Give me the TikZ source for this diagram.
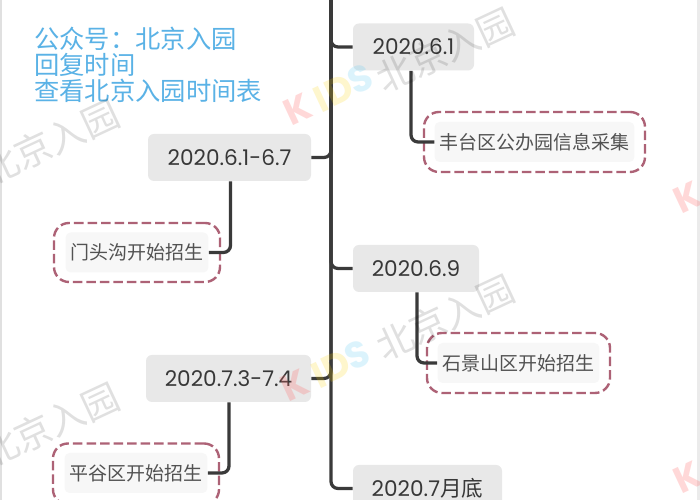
\documentclass[tikz,border=0pt]{standalone}
\usepackage{xcolor}
\usepackage{fontspec}
\setmainfont{Poppins}
\newfontfamily\cjk{Noto Sans CJK SC}
\usetikzlibrary{positioning,calc}
\definecolor{trunkcol}{HTML}{3A3A3A}
\definecolor{dashcol}{HTML}{AD6276}
\definecolor{boxcol}{HTML}{E8E8E8}
\definecolor{notecol}{HTML}{5AB2E6}
\tikzset{
  datebox/.style={fill=boxcol, rounded corners=0.12cm, text=black!78, font=\fontsize{12.3}{14}\selectfont, minimum height=0.94cm},
  dashbox/.style={draw=dashcol, line width=0.048cm, dash pattern=on 0.19cm off 0.08cm, rounded corners=0.3cm},
  childtext/.style={fill=black!3, rounded corners=0.1cm, text=black!68, font=\cjk\fontsize{10.8}{13}\selectfont, inner xsep=0.1cm, minimum height=0.8cm},
  link/.style={draw=trunkcol, line width=0.065cm, rounded corners=0.14cm},
  wmark/.style={text=black, opacity=.12, font=\cjk\fontsize{21}{24}\selectfont, rotate=25},
  kids/.style={font=\fontsize{21}{24}\selectfont\bfseries, rotate=25}
}
\begin{document}
\begin{tikzpicture}
    \useasboundingbox (0,0) rectangle (14,10);
    \clip (0,0) rectangle (14,10);
    \fill[white] (0,0) rectangle (14,10);
    \draw[black!12, line width=0.05cm] (0.01,0) -- (0.01,10);
    \draw[black!8, line width=0.06cm] (13.96,0) -- (13.96,10);

    % note
    \node[align=left, anchor=north west, text=notecol, inner sep=0pt, font=\cjk\fontsize{14.4}{14.9}\selectfont] (note) at (0.68,9.47) {公众号：北京入园\\回复时间\\查看北京入园时间表};

    % dates
    \coordinate (top) at (6.62,10);
    \node[datebox, minimum width=2.42cm] (d61) at (8.27,9.06) {2020.6.1};
    \node[datebox, minimum width=3.26cm] (d67) at (4.59,6.85) {2020.6.1-6.7};
    \node[datebox, minimum width=2.52cm] (d69) at (8.32,4.63) {2020.6.9};
    \node[datebox, minimum width=3.30cm] (d73) at (4.57,2.43) {2020.7.3-7.4};
    \node[datebox, minimum width=2.98cm] (d7e) at (8.55,0.23) {2020.7{\cjk 月底}};

    % dashed groups
    \node[dashbox, minimum width=4.42cm, minimum height=1.2cm] (fengbox) at (10.69,7.16) {};
    \node[dashbox, minimum width=3.32cm, minimum height=1.18cm] (mentbox) at (2.74,4.95) {};
    \node[dashbox, minimum width=3.66cm, minimum height=1.2cm] (shibox) at (10.37,2.74) {};
    \node[dashbox, minimum width=3.32cm, minimum height=1.22cm] (pinbox) at (2.72,0.52) {};
    \node[childtext] (feng) at (fengbox) {丰台区公办园信息采集};
    \node[childtext] (ment) at (mentbox) {门头沟开始招生};
    \node[childtext] (shi) at (shibox) {石景山区开始招生};
    \node[childtext] (pin) at (2.72,0.54) {平谷区开始招生};

    % trunk and branches
    \foreach \n in {d61,d69,d7e} \draw[link] (top) |- (\n.west);
    \foreach \n in {d67,d73} \draw[link] (top) |- (\n.east);
    \draw[link] ([xshift=-0.05cm]d61.south) |- (feng.west);
    \draw[link] ([xshift=0.02cm]d69.south) |- (shi.west);
    \draw[link] ([xshift=0.02cm]d67.south) |- (ment.east);
    \draw[link] ([xshift=0.01cm]d73.south) |- (pin.east);

    % watermarks
    \node[wmark] (wm1) at (1.0,7.15) {北京入园};
    \node[wmark] (wm2) at (8.9,9.0) {北京入园};
    \node[wmark] (wm3) at (1.0,1.5) {北京入园};
    \node[wmark] (wm4) at (8.9,3.65) {北京入园};
    \node[kids, text=red!60!white, opacity=.25] (k1) at (5.95,7.82) {K};
    \node[kids, text=yellow!70!orange, opacity=.2] (i1) at (6.42,8.02) {I};
    \node[kids, text=yellow!70!orange, opacity=.2] (d1) at (6.78,8.2) {D};
    \node[kids, text=cyan!70!white, opacity=.2] (s1) at (7.2,8.42) {S};
    \node[kids, text=red!60!white, opacity=.25] (k2) at (5.9,2.3) {K};
    \node[kids, text=yellow!70!orange, opacity=.2] (i2) at (6.37,2.5) {I};
    \node[kids, text=yellow!70!orange, opacity=.2] (d2) at (6.73,2.68) {D};
    \node[kids, text=cyan!70!white, opacity=.2] (s2) at (7.15,2.9) {S};
    \node[kids, text=red!60!white, opacity=.25] (k3) at (13.75,6.05) {K};
    \node[kids, text=red!60!white, opacity=.25] (k4) at (13.75,0.45) {K};
\end{tikzpicture}
\end{document}
